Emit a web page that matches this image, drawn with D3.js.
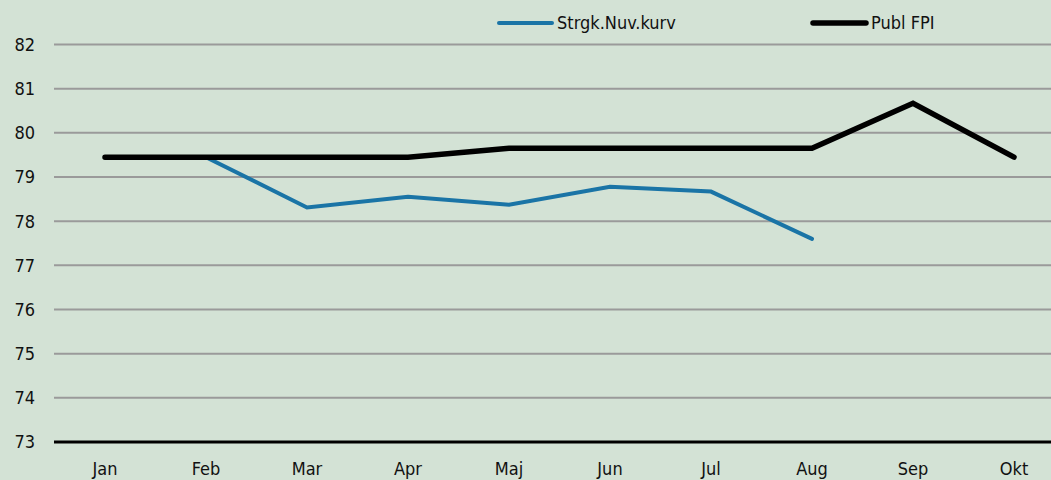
<!DOCTYPE html>
<html>
<head>
<meta charset="utf-8">
<script src="https://cdn.jsdelivr.net/npm/d3@7"></script>
<style>
    body { margin: 0; background: #d3e2d5; }
    svg { display: block; }
    text { font-family: "DejaVu Sans Condensed", "Liberation Sans Narrow", sans-serif; fill: #111; }
</style>
</head>
<body>
<div id="chart"></div>
<script>
const months = ["Jan", "Feb", "Mar", "Apr", "Maj", "Jun", "Jul", "Aug", "Sep", "Okt"];
const strgkValues = [79.45, 79.45, 78.31, 78.55, 78.37, 78.78, 78.67, 77.6];
const publValues = [79.45, 79.45, 79.45, 79.45, 79.65, 79.65, 79.65, 79.65, 80.67, 79.45];
const yTicks = [73, 74, 75, 76, 77, 78, 79, 80, 81, 82];
const seriesNames = ["Strgk.Nuv.kurv", "Publ FPI"];
const seriesColors = ["#1a74a6", "#000000"];

let width = 1051, height = 480;

let svg = d3.select("#chart").append("svg")
    .attr("width", width)
    .attr("height", height);

svg.append("rect")
    .attr("width", width)
    .attr("height", height)
    .attr("fill", "#d3e2d5");

// scales
let x = d3.scalePoint()
    .domain(months)
    .range([105, 1014]);

let y = d3.scaleLinear()
    .domain([73, 82])
    .range([442, 44.5]);

// gridlines
svg.append("g")
    .selectAll("line")
    .data(yTicks.filter(d => d !== 73))
    .enter().append("line")
    .attr("x1", 54)
    .attr("x2", width)
    .attr("y1", d => y(d))
    .attr("y2", d => y(d))
    .attr("stroke", "#9a9a9a")
    .attr("stroke-width", 2);

// y labels
svg.append("g")
    .selectAll("text")
    .data(yTicks)
    .enter().append("text")
    .attr("x", 35)
    .attr("y", d => y(d))
    .attr("dy", "0.36em")
    .attr("text-anchor", "end")
    .style("font-size", "18px")
    .text(d => d);

// baseline
svg.append("line")
    .attr("x1", 54)
    .attr("x2", width)
    .attr("y1", y(73))
    .attr("y2", y(73))
    .attr("stroke", "#000")
    .attr("stroke-width", 3);

// x labels
svg.append("g")
    .selectAll("text")
    .data(months)
    .enter().append("text")
    .attr("x", d => x(d))
    .attr("y", 475)
    .attr("text-anchor", "middle")
    .style("font-size", "18px")
    .text(d => d);

let line = d3.line()
    .x((d, i) => x(months[i]))
    .y(d => y(d));

svg.append("path")
    .datum(strgkValues)
    .attr("d", line)
    .attr("fill", "none")
    .attr("stroke", seriesColors[0])
    .attr("stroke-width", 4)
    .attr("stroke-linejoin", "miter")
    .attr("stroke-linecap", "round");

svg.append("path")
    .datum(publValues)
    .attr("d", line)
    .attr("fill", "none")
    .attr("stroke", seriesColors[1])
    .attr("stroke-width", 5.5)
    .attr("stroke-linejoin", "miter")
    .attr("stroke-linecap", "round");

// legend
let legendX = [499, 813];
let legend = svg.append("g")
    .selectAll("g")
    .data(seriesNames)
    .enter().append("g")
    .attr("transform", (d, i) => `translate(${legendX[i]}, 23)`);

legend.append("line")
    .attr("x1", 0)
    .attr("x2", 53)
    .attr("stroke", (d, i) => seriesColors[i])
    .attr("stroke-width", (d, i) => i === 0 ? 4 : 5.5)
    .attr("stroke-linecap", "round");

legend.append("text")
    .attr("x", 58)
    .attr("dy", "0.36em")
    .style("font-size", "18px")
    .text(d => d);
</script>
</body>
</html>
